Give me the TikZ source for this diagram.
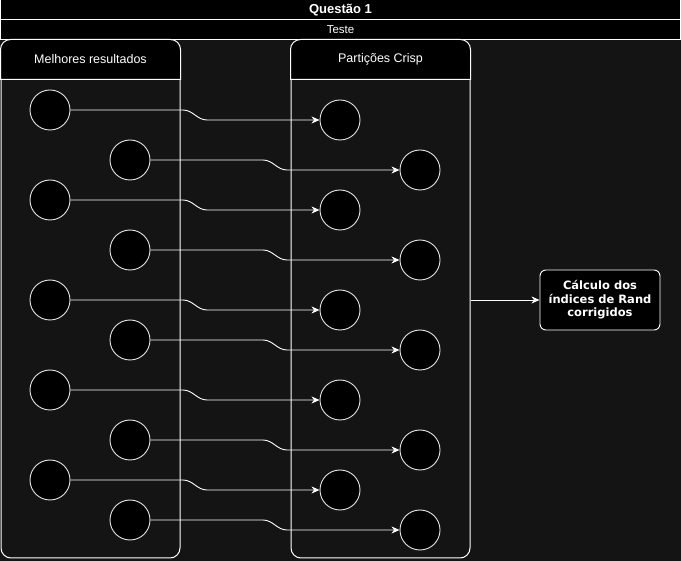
\documentclass[tikz,border=0pt]{standalone}
\usepackage{fontspec}
\setmainfont{Liberation Sans}
\newfontfamily\boxfont{DejaVu Sans}
\usetikzlibrary{arrows.meta, calc}
\definecolor{bgdark}{HTML}{141414}
\definecolor{ringgray}{HTML}{E6E6E6}
\tikzstyle{bar} = [rectangle,
minimum width=681pt,
minimum height=20pt,
inner sep=0pt,
draw=white,
line width=1pt,
fill=black,
text=white]
\tikzstyle{lane} = [rectangle, rounded corners=10pt,
minimum width=179pt,
minimum height=518pt,
draw=white,
line width=1pt,
fill=bgdark]
\tikzstyle{lanehead} = [draw=white, fill=black, line width=1pt]
\tikzstyle{item} = [circle,
minimum size=40pt,
inner sep=0pt,
draw=ringgray,
line width=0.9pt,
fill=black]
\tikzstyle{result} = [rectangle, rounded corners=6pt,
minimum width=120pt,
minimum height=60pt,
text centered,
align=center,
draw=white,
line width=0.9pt,
fill=black,
text=white,
font=\boxfont\bfseries\fontsize{11.5pt}{13.5pt}\selectfont]
\tikzstyle{arrow} = [draw=white, line width=0.9pt, -{Stealth[length=8pt,width=7pt,inset=2.5pt]}]
\tikzstyle{jog} = [to path={let \p1=(\tikztostart), \p2=(\tikztotarget) in
  -- ({(\x1+\x2)/2-12pt},\y1) .. controls ({(\x1+\x2)/2-2pt},\y1) and ({(\x1+\x2)/2+2pt},\y2) .. ({(\x1+\x2)/2+12pt},\y2) -- (\p2)}]

\begin{document}
\begin{tikzpicture}[x=1pt, y=-1pt, font=\fontsize{12.5pt}{14pt}\selectfont]
    \useasboundingbox[fill=bgdark] (0,0) rectangle (681,561);

    \node (title) [bar, font=\bfseries\fontsize{13pt}{15pt}\selectfont, minimum width=680pt] at (340.5,10) {Questão 1};
    \node (sub) [bar, font=\fontsize{11.5pt}{13pt}\selectfont, minimum width=680pt] at (340.5,30) {Teste};

    % swimlanes
    \node (lane1) [lane] at (90.5,299) {};
    \node (lane2) [lane] at (380.5,299) {};
    \path[lanehead] ([yshift=-40pt]lane1.north west) [rounded corners=10pt] -- (lane1.north west) -- (lane1.north east) [sharp corners] -- ([yshift=-40pt]lane1.north east) -- cycle;
    \path[lanehead] ([yshift=-40pt]lane2.north west) [rounded corners=10pt] -- (lane2.north west) -- (lane2.north east) [sharp corners] -- ([yshift=-40pt]lane2.north east) -- cycle;
    \node (head1) [text=white] at ([yshift=-20pt]lane1.north) {Melhores resultados};
    \node (head2) [text=white] at ([yshift=-20pt]lane2.north) {Partições Crisp};

    % melhores resultados
    \node (a1) [item] at (50,110) {};
    \node (b1) [item] at (130,160) {};
    \node (a2) [item] at (50,200) {};
    \node (b2) [item] at (130,250) {};
    \node (a3) [item] at (50,300) {};
    \node (b3) [item] at (130,340) {};
    \node (a4) [item] at (50,390) {};
    \node (b4) [item] at (130,440) {};
    \node (a5) [item] at (50,480) {};
    \node (b5) [item] at (130,520) {};

    % particoes crisp
    \node (c1) [item] at (340,120) {};
    \node (d1) [item] at (420,170) {};
    \node (c2) [item] at (340,210) {};
    \node (d2) [item] at (420,260) {};
    \node (c3) [item] at (340,310) {};
    \node (d3) [item] at (420,350) {};
    \node (c4) [item] at (340,400) {};
    \node (d4) [item] at (420,450) {};
    \node (c5) [item] at (340,490) {};
    \node (d5) [item] at (420,530) {};

    \node (rand) [result] at (600,300) {Cálculo dos\\índices de Rand\\corrigidos};

    \draw [arrow] (a1.east) to[jog] (c1.west);
    \draw [arrow] (b1.east) to[jog] (d1.west);
    \draw [arrow] (a2.east) to[jog] (c2.west);
    \draw [arrow] (b2.east) to[jog] (d2.west);
    \draw [arrow] (a3.east) to[jog] (c3.west);
    \draw [arrow] (b3.east) to[jog] (d3.west);
    \draw [arrow] (a4.east) to[jog] (c4.west);
    \draw [arrow] (b4.east) to[jog] (d4.west);
    \draw [arrow] (a5.east) to[jog] (c5.west);
    \draw [arrow] (b5.east) to[jog] (d5.west);
    \draw [arrow] (lane2.east |- rand.west) -- (rand.west);
\end{tikzpicture}
\end{document}
